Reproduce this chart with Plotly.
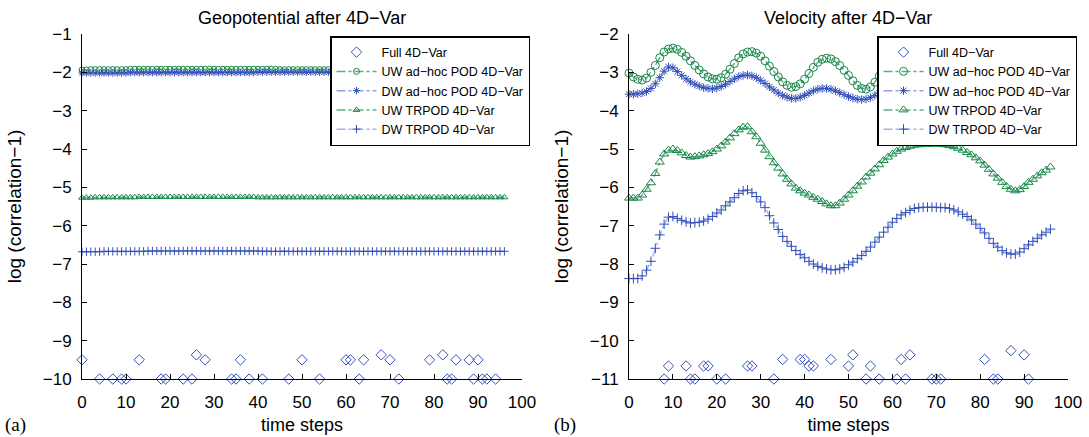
import plotly.graph_objects as go

# ---------------- data ----------------
steps = list(range(97))

# Left panel: Geopotential after 4D-Var
geo_full_t = [0, 4, 7, 9, 10, 13, 18, 19, 23, 25, 26, 28, 34, 35, 36, 38, 41, 47, 50, 54,
              60, 61, 63, 64, 68, 70, 72, 79, 82, 83, 84, 85, 88, 89, 90, 91, 92, 94]
geo_full = [-9.5, -10, -10, -10, -10, -9.5, -10, -10, -10, -10, -9.37, -9.5, -10, -10, -9.5, -10, -10, -10, -9.5, -10,
            -9.5, -9.5, -10, -9.5, -9.37, -9.5, -10, -9.5, -9.37, -10, -10, -9.5, -9.5, -10, -9.5, -10, -10, -10]

geo_uw_adhoc = [-1.94, -1.94, -1.93, -1.93, -1.93, -1.93, -1.93, -1.93, -1.93, -1.93,
                -1.93, -1.92, -1.92, -1.92, -1.92, -1.92, -1.92, -1.92, -1.92, -1.92,
                -1.92, -1.92, -1.92, -1.92, -1.92, -1.92, -1.92, -1.92, -1.92, -1.92,
                -1.92, -1.92, -1.92, -1.92, -1.92, -1.92, -1.92, -1.92, -1.92, -1.92,
                -1.92, -1.92, -1.92, -1.92, -1.92, -1.93, -1.93, -1.93, -1.93, -1.93,
                -1.93, -1.93, -1.93, -1.93, -1.93, -1.93, -1.93, -1.93, -1.93, -1.93,
                -1.93, -1.93, -1.93, -1.93, -1.93, -1.93, -1.93, -1.93, -1.93, -1.93,
                -1.93, -1.93, -1.93, -1.93, -1.93, -1.93, -1.93, -1.93, -1.93, -1.93,
                -1.93, -1.93, -1.93, -1.93, -1.93, -1.93, -1.93, -1.93, -1.93, -1.93,
                -1.93, -1.93, -1.93, -1.93, -1.93, -1.93, -1.93]
geo_dw_adhoc = [-2.02, -2.02, -2.02, -2.02, -2.02, -2.02, -2.02, -2.02, -2.02, -2.02,
                -2.02, -2.01, -2.01, -2.01, -2.01, -2.01, -2.01, -2.01, -2.01, -2.01,
                -2.01, -2.01, -2.01, -2.01, -2.01, -2.01, -2.01, -2.01, -2.01, -2.01,
                -2.01, -2.01, -2.01, -2.01, -2.01, -2.01, -2.01, -2.01, -2.01, -2.01,
                -2.00, -2.00, -2.00, -2.00, -2.00, -2.00, -2.00, -2.00, -2.00, -2.00,
                -2.00, -2.00, -2.00, -2.00, -2.00, -2.00, -2.00, -2.00, -2.00, -2.00,
                -2.01, -2.01, -2.01, -2.01, -2.01, -2.01, -2.01, -2.01, -2.01, -2.01,
                -2.01, -2.01, -2.01, -2.01, -2.01, -2.01, -2.01, -2.01, -2.01, -2.01,
                -2.01, -2.01, -2.01, -2.01, -2.01, -2.01, -2.01, -2.01, -2.01, -2.01,
                -2.01, -2.01, -2.01, -2.01, -2.01, -2.01, -2.01]
geo_uw_trpod = [-5.27, -5.27, -5.27, -5.26, -5.26, -5.26, -5.26, -5.26, -5.26, -5.26,
                -5.26, -5.26, -5.26, -5.25, -5.25, -5.25, -5.25, -5.25, -5.25, -5.25,
                -5.25, -5.25, -5.25, -5.25, -5.25, -5.25, -5.25, -5.25, -5.25, -5.25,
                -5.25, -5.25, -5.25, -5.25, -5.25, -5.25, -5.25, -5.25, -5.25, -5.25,
                -5.26, -5.26, -5.26, -5.26, -5.26, -5.26, -5.26, -5.26, -5.26, -5.26,
                -5.26, -5.26, -5.26, -5.26, -5.26, -5.26, -5.26, -5.26, -5.26, -5.26,
                -5.26, -5.26, -5.26, -5.26, -5.26, -5.26, -5.26, -5.26, -5.26, -5.26,
                -5.26, -5.26, -5.26, -5.26, -5.26, -5.26, -5.26, -5.26, -5.26, -5.26,
                -5.26, -5.26, -5.26, -5.26, -5.26, -5.26, -5.26, -5.26, -5.26, -5.26,
                -5.26, -5.26, -5.26, -5.26, -5.26, -5.26, -5.26]
geo_dw_trpod = [-6.68, -6.68, -6.68, -6.68, -6.68, -6.67, -6.67, -6.67, -6.67, -6.67,
                -6.67, -6.67, -6.67, -6.67, -6.67, -6.66, -6.66, -6.66, -6.66, -6.66,
                -6.66, -6.66, -6.66, -6.66, -6.66, -6.66, -6.66, -6.66, -6.66, -6.66,
                -6.66, -6.66, -6.66, -6.66, -6.66, -6.66, -6.66, -6.66, -6.66, -6.66,
                -6.66, -6.67, -6.67, -6.67, -6.67, -6.67, -6.67, -6.67, -6.67, -6.67,
                -6.67, -6.67, -6.67, -6.67, -6.67, -6.67, -6.67, -6.67, -6.67, -6.67,
                -6.67, -6.67, -6.67, -6.67, -6.67, -6.67, -6.67, -6.67, -6.67, -6.67,
                -6.67, -6.67, -6.67, -6.67, -6.67, -6.67, -6.67, -6.67, -6.67, -6.67,
                -6.67, -6.67, -6.67, -6.67, -6.67, -6.67, -6.67, -6.67, -6.67, -6.67,
                -6.67, -6.67, -6.67, -6.67, -6.67, -6.67, -6.67]

# Right panel: Velocity after 4D-Var
vel_full_t = [8, 9, 13, 14, 15, 17, 18, 20, 22, 27, 28, 33, 35, 39, 40, 41, 42, 46, 50, 51,
              54, 55, 57, 61, 62, 63, 64, 69, 70, 71, 81, 83, 84, 87, 90, 91]
vel_full = [-11, -10.66, -10.66, -11, -11, -10.66, -10.66, -11, -11, -10.66, -10.66, -11, -10.49, -10.49, -10.49,
            -10.66, -10.66, -10.49, -10.66, -10.37, -11, -10.66, -11, -11, -10.49, -11, -10.37, -11, -11, -11,
            -10.49, -11, -11, -10.26, -10.37, -11]

vel_uw_adhoc = [-3.02, -3.12, -3.18, -3.20, -3.15, -3.00, -2.82, -2.62, -2.47, -2.39,
                -2.37, -2.40, -2.48, -2.58, -2.70, -2.82, -2.94, -3.04, -3.12, -3.17,
                -3.18, -3.14, -3.05, -2.92, -2.77, -2.62, -2.52, -2.47, -2.46, -2.50,
                -2.58, -2.70, -2.84, -2.98, -3.12, -3.25, -3.34, -3.39, -3.37, -3.30,
                -3.18, -3.03, -2.87, -2.74, -2.66, -2.63, -2.65, -2.72, -2.82, -2.95,
                -3.08, -3.22, -3.34, -3.42, -3.44, -3.38, -3.26, -3.10, -2.95, -2.82,
                -2.74, -2.70, -2.72, -2.80, -2.92, -3.06, -3.20, -3.32, -3.40, -3.43,
                -3.38, -3.27, -3.12, -2.98, -2.86, -2.78, -2.75, -2.78, -2.86, -2.98,
                -3.12, -3.26, -3.37, -3.44, -3.45, -3.40, -3.29, -3.14, -3.00, -2.88,
                -2.80, -2.77, -2.80, -2.88, -3.00, -3.14, -3.27]
vel_dw_adhoc = [-3.57, -3.57, -3.56, -3.54, -3.50, -3.42, -3.30, -3.14, -2.97, -2.86,
                -2.88, -2.98, -3.08, -3.17, -3.25, -3.31, -3.36, -3.40, -3.42, -3.43,
                -3.41, -3.37, -3.31, -3.24, -3.17, -3.11, -3.08, -3.07, -3.09, -3.14,
                -3.21, -3.29, -3.38, -3.46, -3.54, -3.60, -3.65, -3.68, -3.68, -3.65,
                -3.60, -3.54, -3.48, -3.44, -3.42, -3.42, -3.44, -3.48, -3.53, -3.58,
                -3.63, -3.67, -3.70, -3.71, -3.70, -3.66, -3.60, -3.54, -3.48, -3.45,
                -3.44, -3.46, -3.50, -3.55, -3.61, -3.66, -3.70, -3.72, -3.71, -3.67,
                -3.61, -3.55, -3.50, -3.47, -3.46, -3.48, -3.52, -3.57, -3.63, -3.68,
                -3.72, -3.73, -3.71, -3.66, -3.60, -3.54, -3.50, -3.48, -3.49, -3.53,
                -3.58, -3.64, -3.69, -3.72, -3.73, -3.70, -3.65]
vel_uw_trpod = [-6.28, -6.28, -6.28, -6.20, -6.05, -5.88, -5.64, -5.34, -5.13, -5.03,
                -5.00, -5.04, -5.10, -5.17, -5.21, -5.20, -5.18, -5.15, -5.12, -5.07,
                -5.00, -4.92, -4.82, -4.71, -4.60, -4.50, -4.43, -4.42, -4.55, -4.68,
                -4.85, -5.03, -5.20, -5.36, -5.50, -5.65, -5.79, -5.91, -6.02, -6.09,
                -6.15, -6.20, -6.26, -6.31, -6.37, -6.43, -6.48, -6.48, -6.41, -6.31,
                -6.20, -6.09, -5.97, -5.86, -5.73, -5.63, -5.52, -5.41, -5.30, -5.21,
                -5.13, -5.06, -5.00, -4.96, -4.93, -4.90, -4.89, -4.88, -4.88, -4.87,
                -4.87, -4.88, -4.89, -4.91, -4.94, -4.98, -5.03, -5.09, -5.15, -5.23,
                -5.31, -5.42, -5.53, -5.65, -5.76, -5.87, -5.98, -6.05, -6.09, -6.06,
                -5.98, -5.87, -5.79, -5.70, -5.62, -5.55, -5.47]
vel_dw_trpod = [-8.38, -8.38, -8.38, -8.31, -8.16, -7.93, -7.59, -7.24, -6.96, -6.78,
                -6.76, -6.81, -6.86, -6.90, -6.93, -6.92, -6.91, -6.88, -6.83, -6.76,
                -6.67, -6.59, -6.48, -6.38, -6.27, -6.16, -6.09, -6.07, -6.14, -6.24,
                -6.38, -6.53, -6.74, -6.93, -7.10, -7.28, -7.41, -7.54, -7.65, -7.75,
                -7.84, -7.93, -8.00, -8.06, -8.10, -8.13, -8.15, -8.15, -8.13, -8.09,
                -8.02, -7.95, -7.86, -7.78, -7.67, -7.56, -7.43, -7.30, -7.17, -7.04,
                -6.91, -6.81, -6.72, -6.66, -6.60, -6.55, -6.53, -6.52, -6.52, -6.52,
                -6.52, -6.53, -6.53, -6.55, -6.59, -6.64, -6.70, -6.76, -6.85, -6.96,
                -7.07, -7.19, -7.33, -7.46, -7.56, -7.65, -7.71, -7.74, -7.74, -7.69,
                -7.60, -7.50, -7.41, -7.33, -7.24, -7.17, -7.09]

labels = ["Full 4D\u2212Var", "UW ad\u2212hoc POD 4D\u2212Var", "DW ad\u2212hoc POD 4D\u2212Var",
          "UW TRPOD 4D\u2212Var", "DW TRPOD 4D\u2212Var"]
titles = ["Geopotential after 4D\u2212Var", "Velocity after 4D\u2212Var"]
x_ticks = list(range(0, 101, 10))

# ---------------- style ----------------
GREEN = "#16884a"
BLUE = "#3450b8"
GREEN_LINE = "rgba(40,150,80,0.75)"
BLUE_LINE = "rgba(70,100,200,0.6)"
LBLUE_LINE = "rgba(120,150,225,0.7)"
FONT = "Liberation Sans, Arial, sans-serif"

W, H = 1089, 437
def px(x):
    return x / W
def py(y):
    return 1 - y / H

fig = go.Figure()

panels = [
    dict(xa="x", ya="y", legend="legend", full_t=geo_full_t, full=geo_full,
         series=[geo_uw_adhoc, geo_dw_adhoc, geo_uw_trpod, geo_dw_trpod],
         sizes=[6, 6, 6, 6]),
    dict(xa="x2", ya="y2", legend="legend2", full_t=vel_full_t, full=vel_full,
         series=[vel_uw_adhoc, vel_dw_adhoc, vel_uw_trpod, vel_dw_trpod],
         sizes=[8, 7, 8, 7]),
]

specs = [
    ("circle-open", GREEN, GREEN_LINE),
    ("asterisk-open", BLUE, BLUE_LINE),
    ("triangle-up-open", GREEN, GREEN_LINE),
    ("cross-thin-open", BLUE, LBLUE_LINE),
]

for p in panels:
    fig.add_trace(go.Scatter(
        x=p["full_t"], y=p["full"], mode="markers", name=labels[0],
        marker=dict(symbol="diamond-open", size=8, color=BLUE, line=dict(width=1, color=BLUE)),
        xaxis=p["xa"], yaxis=p["ya"], legend=p["legend"], cliponaxis=False))
    for i, (sym, mc, lc) in enumerate(specs):
        fig.add_trace(go.Scatter(
            x=steps, y=p["series"][i], mode="lines+markers", name=labels[i + 1],
            line=dict(color=lc, width=1.5, dash="dashdot"),
            marker=dict(symbol=sym, size=p["sizes"][i], color=mc, line=dict(width=1, color=mc)),
            xaxis=p["xa"], yaxis=p["ya"], legend=p["legend"], cliponaxis=False))

axis_common = dict(
    showline=True, linecolor="black", linewidth=1, mirror=False,
    ticks="inside", ticklen=5, tickcolor="black", tickwidth=1,
    showgrid=False, zeroline=False, automargin=False,
    tickfont=dict(family=FONT, size=17, color="black"),
)

ydom = [py(379), py(34)]
fig.update_layout(
    width=W, height=H,
    margin=dict(l=0, r=0, t=0, b=0, autoexpand=False),
    paper_bgcolor="white", plot_bgcolor="white",
    font=dict(family=FONT, color="black"),
    xaxis=dict(domain=[px(82), px(522)], range=[0, 100], tickvals=x_ticks, anchor="y",
               title=dict(text="time steps", font=dict(size=18), standoff=6),
               ticklabelstandoff=8, **axis_common),
    yaxis=dict(domain=ydom, range=[-10, -1], dtick=1, anchor="x",
               title=dict(text="log (correlation\u22121)", font=dict(size=19), standoff=16),
               ticklabelstandoff=6, **axis_common),
    xaxis2=dict(domain=[px(629), px(1068)], range=[0, 100], tickvals=x_ticks, anchor="y2",
                title=dict(text="time steps", font=dict(size=18), standoff=6),
                ticklabelstandoff=8, **axis_common),
    yaxis2=dict(domain=ydom, range=[-11, -2], dtick=1, anchor="x2",
                title=dict(text="log (correlation\u22121)", font=dict(size=19), standoff=16),
                ticklabelstandoff=6, **axis_common),
    legend=dict(x=px(330), y=py(36), xanchor="left", yanchor="top",
                bgcolor="white", bordercolor="black", borderwidth=1.5,
                font=dict(family=FONT, size=12.5), itemwidth=40, tracegroupgap=0),
    legend2=dict(x=px(877), y=py(36), xanchor="left", yanchor="top",
                 bgcolor="white", bordercolor="black", borderwidth=1.5,
                 font=dict(family=FONT, size=12.5), itemwidth=40, tracegroupgap=0),
    showlegend=True,
    annotations=[
        dict(text=titles[0], x=px(302), y=py(18), xref="paper", yref="paper",
             xanchor="center", yanchor="middle",
             showarrow=False, font=dict(family=FONT, size=18)),
        dict(text=titles[1], x=px(848), y=py(18), xref="paper", yref="paper",
             xanchor="center", yanchor="middle",
             showarrow=False, font=dict(family=FONT, size=18)),
        dict(text="(a)", x=px(15), y=py(425), xref="paper", yref="paper",
             xanchor="center", yanchor="middle",
             showarrow=False, font=dict(family="Liberation Serif, Times New Roman, serif", size=19)),
        dict(text="(b)", x=px(565), y=py(425), xref="paper", yref="paper",
             xanchor="center", yanchor="middle",
             showarrow=False, font=dict(family="Liberation Serif, Times New Roman, serif", size=19)),
    ],
)

fig.write_html("out.html")
